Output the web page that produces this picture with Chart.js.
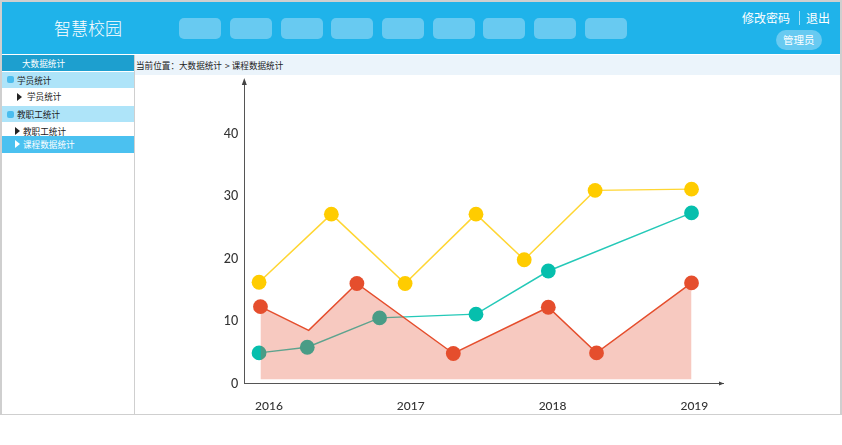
<!DOCTYPE html>
<html lang="zh">
<head>
<meta charset="utf-8">
<title>课程数据统计</title>
<script src="https://cdn.jsdelivr.net/npm/chart.js@4/dist/chart.umd.min.js"></script>
<style>
  html, body { margin: 0; padding: 0; background: #fff; overflow: hidden; }
  body { width: 842px; height: 445px; position: relative; font-family: "Noto Sans CJK SC", sans-serif; color: #222; }
  .box { position: absolute; }
  .txt { position: absolute; white-space: nowrap; line-height: 16px; font-size: 8.6px; }
  .nav-btn { position: absolute; top: 18px; width: 42px; height: 21px; border-radius: 5px; background: #68caf1; }
  .tri { position: absolute; width: 0; height: 0; border-top: 4px solid transparent; border-bottom: 4px solid transparent; border-left: 5px solid #222; }
  #chartWrap { position: absolute; left: 135px; top: 66px; width: 705px; height: 348px; }
</style>
</head>
<body>
  <!-- frame -->
  <div class="box" style="left:0;top:0;width:842px;height:2px;background:#cfcfcf"></div>
  <div class="box" style="left:0;top:0;width:2px;height:415px;background:#cfcfcf"></div>
  <div class="box" style="left:840px;top:0;width:2px;height:415px;background:#cfcfcf"></div>
  <div class="box" style="left:0;top:414px;width:842px;height:1px;background:#cfcfcf"></div>

  <!-- header -->
  <div class="box" style="left:2px;top:2px;width:838px;height:52px;background:#1fb3ea"></div>
  <div class="txt" style="left:54px;top:17px;font-size:17px;line-height:22px;font-weight:300;color:#fff">智慧校园</div>
  <div id="navBtns"></div>
  <div class="txt" style="left:742px;top:10px;font-size:12px;color:#fff">修改密码</div>
  <div class="box" style="left:799px;top:11px;width:1px;height:14px;background:#a8e0f6"></div>
  <div class="txt" style="left:806px;top:10px;font-size:12px;color:#fff">退出</div>
  <div class="box" style="left:776px;top:30px;width:46px;height:20px;border-radius:10px;background:#68caf1"></div>
  <div class="txt" style="left:783px;top:32px;font-size:10.5px;color:#fff">管理员</div>

  <!-- sidebar -->
  <div class="box" style="left:2px;top:55px;width:132px;height:16px;background:#1d9fcf"></div>
  <div class="txt" style="left:22px;top:55px;color:#fff">大数据统计</div>
  <div class="box" style="left:2px;top:72px;width:132px;height:16px;background:#aee4f9"></div>
  <div class="box" style="left:7px;top:76px;width:7px;height:7px;border-radius:2px;background:#4abdee"></div>
  <div class="txt" style="left:17px;top:72px">学员统计</div>
  <div class="tri" style="left:17px;top:93px"></div>
  <div class="txt" style="left:27px;top:88px">学员统计</div>
  <div class="box" style="left:2px;top:106px;width:132px;height:16px;background:#aee4f9"></div>
  <div class="box" style="left:7px;top:111px;width:7px;height:7px;border-radius:2px;background:#4abdee"></div>
  <div class="txt" style="left:17px;top:106px">教职工统计</div>
  <div class="tri" style="left:15px;top:127px"></div>
  <div class="txt" style="left:23px;top:123px">教职工统计</div>
  <div class="box" style="left:2px;top:136px;width:132px;height:17px;background:#4bc1f0"></div>
  <div class="tri" style="left:15px;top:140px;border-left-color:#fff"></div>
  <div class="txt" style="left:23px;top:136px;color:#fff">课程数据统计</div>
  <div class="box" style="left:134px;top:55px;width:1px;height:360px;background:#cfcfcf"></div>

  <!-- breadcrumb -->
  <div class="box" style="left:135px;top:55px;width:705px;height:20px;background:#ebf4fb"></div>
  <div class="txt" style="left:136px;top:57px">当前位置：大数据统计<span style="margin:0 2px 0 3px">&gt;</span>课程数据统计</div>

  <div id="chartWrap"><canvas id="courseChart" width="705" height="348"></canvas></div>

<script>
/* chart data */
const yearTicks = [2016, 2017, 2018, 2019];
const valueTicks = [0, 10, 20, 30, 40];

const yellowYears = [2015.93, 2016.44, 2016.96, 2017.46, 2017.80, 2018.30, 2018.98];
const yellowValues = [16.2, 27.1, 16.0, 27.1, 19.8, 30.9, 31.1];

const redYears = [2015.94, 2016.28, 2016.62, 2017.30, 2017.97, 2018.31, 2018.98];
const redValues = [12.3, 8.5, 16.0, 4.8, 12.2, 4.9, 16.1];

const tealYears = [2015.93, 2016.27, 2016.78, 2017.46, 2017.97, 2018.98];
const tealValues = [4.9, 5.8, 10.5, 11.1, 18.0, 27.3];

const toPoints = (xs, ys) => xs.map((x, i) => ({ x: x, y: ys[i] }));

/* top nav placeholders */
const navBtns = document.getElementById('navBtns');
for (let i = 0; i < 9; i++) {
  const b = document.createElement('div');
  b.className = 'nav-btn';
  b.style.left = (179.3 + i * 50.67) + 'px';
  navBtns.appendChild(b);
}

/* arrow heads on the two axes */
const axisArrows = {
  id: 'axisArrows',
  afterDraw(chart) {
    const { ctx, chartArea: a } = chart;
    ctx.save();
    ctx.fillStyle = '#444';
    ctx.beginPath();
    ctx.moveTo(a.left, a.top - 2);
    ctx.lineTo(a.left - 2.5, a.top + 5);
    ctx.lineTo(a.left + 2.5, a.top + 5);
    ctx.closePath();
    ctx.fill();
    ctx.beginPath();
    ctx.moveTo(a.right + 1, a.bottom);
    ctx.lineTo(a.right - 4, a.bottom - 2);
    ctx.lineTo(a.right - 4, a.bottom + 2);
    ctx.closePath();
    ctx.fill();
    ctx.restore();
  }
};

const lineSet = (label, color, lineColor, xs, ys) => ({
  label: label,
  data: toPoints(xs, ys),
  borderColor: lineColor,
  backgroundColor: color,
  pointBackgroundColor: color,
  pointBorderColor: color,
  borderWidth: 1.5,
  pointRadius: 7.4,
  pointBorderWidth: 0,
  tension: 0,
  fill: false
});

const yellow = lineSet('yellow', '#ffcc00', '#ffd633', yellowYears, yellowValues);
const teal = lineSet('teal', '#06bfad', '#25c9b8', tealYears, tealValues);
const red = lineSet('red', '#e54e2d', '#e54e2d', redYears, redValues);
red.fill = { value: 0.7 };
red.backgroundColor = 'rgba(230,77,46,0.3)';
// second red vertex has no marker in the picture
red.pointRadius = ctx => (ctx.dataIndex === 1 ? 0 : 7.4);

new Chart(document.getElementById('courseChart'), {
  type: 'line',
  // teal is last so it is painted first and the red area sits over it
  data: { datasets: [yellow, red, teal] },
  options: {
    responsive: false,
    animation: false,
    // top padding is bigger than the half-label margin the y scale asks for
    layout: { padding: { left: 0, right: 117, top: 14, bottom: 0 } },
    plugins: { legend: { display: false }, tooltip: { enabled: false } },
    scales: {
      x: {
        type: 'linear',
        min: 2015.826,
        max: 2019.202,
        grid: { display: false, drawTicks: false },
        border: { color: '#555', width: 1 },
        afterBuildTicks: axis => { axis.ticks = yearTicks.map(v => ({ value: v })); },
        afterFit: axis => { axis.height = 30.5; },
        ticks: {
          callback: v => String(v),
          color: '#333',
          padding: 15,
          maxRotation: 0,
          autoSkip: false,
          font: { family: 'Lato', size: 12, weight: 500 }
        }
      },
      y: {
        type: 'linear',
        min: 0,
        max: 48.56,
        grid: { display: false, drawTicks: false },
        border: { color: '#555', width: 1 },
        afterBuildTicks: axis => { axis.ticks = valueTicks.map(v => ({ value: v })); },
        afterFit: axis => { axis.width = 109.3; },
        ticks: {
          callback: v => String(v),
          color: '#333',
          padding: 6,
          autoSkip: false,
          font: { family: 'Lato', size: 12.5, weight: 500 }
        }
      }
    }
  },
  plugins: [axisArrows]
});
</script>
</body>
</html>
